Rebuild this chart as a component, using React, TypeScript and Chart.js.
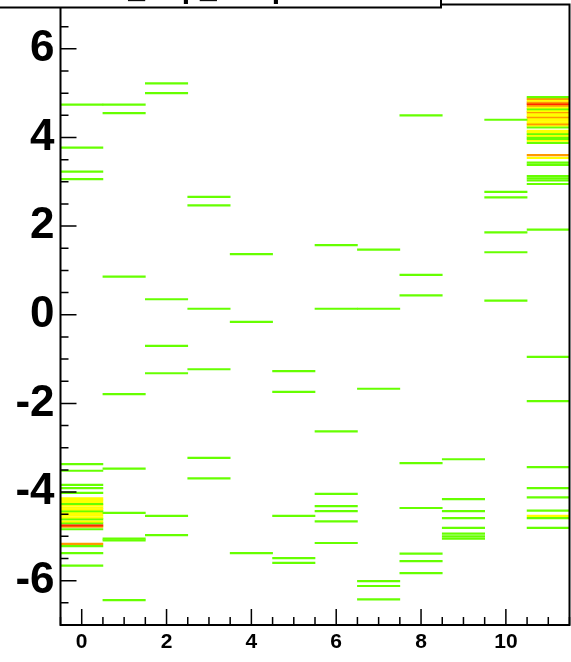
import React, { useEffect, useRef } from 'react';
import { Chart, registerables } from 'chart.js';

Chart.register(...registerables);

// ---- data ----
const xBins = [0, 1, 2, 3, 4, 5, 6, 7, 8, 9, 10, 11];
const xTickLabels = ['0', '2', '4', '6', '8', '10'];
const yTickLabels = ['-6', '-4', '-2', '0', '2', '4', '6'];
const xRange = [-0.5, 11.5];
const yRange = [-7, 7];
const yBinWidth = 14 / 400;
const minorStep = 0.5;
const titleText = 'h_tmp_rmsp';

const bin0Y = [4.74, 3.77, 3.23, 3.06, -3.37, -3.52, -3.84, -3.91, -4.02, -4.14, -4.18, -4.22, -4.27, -4.3, -4.35, -4.39, -4.43, -4.47, -4.52, -4.57, -4.61, -4.66, -4.7, -4.75, -4.78, -4.84, -5.17, -5.22, -5.38, -5.66];
const bin0N = [1, 1, 1, 1, 1, 1, 1, 1, 1, 2, 2, 2, 1, 2, 2, 2, 1, 2, 2, 2, 1, 2, 1, 4, 3, 1, 3, 1, 1, 1];
const bin1Y = [4.74, 4.55, 0.86, -1.79, -3.47, -4.47, -5.05, -5.09, -6.44];
const bin2Y = [5.22, 5.0, 0.35, -0.7, -1.32, -4.54, -4.97];
const bin3Y = [2.66, 2.47, 0.135, -1.23, -3.23, -3.69];
const bin4Y = [1.37, -0.16, -5.38];
const bin5Y = [-1.27, -1.74, -4.54, -5.49, -5.6];
const bin6Y = [1.57, 0.135, -2.63, -4.04, -4.32, -4.43, -4.66, -5.15];
const bin7Y = [1.47, 0.135, -1.67, -6.01, -6.12, -6.42];
const bin8Y = [4.5, 0.9, 0.435, -3.35, -4.36, -5.39, -5.56, -5.83];
const bin9Y = [-3.26, -4.16, -4.43, -4.59, -4.81, -4.94, -5.0, -5.05];
const bin10Y = [4.4, 2.77, 2.65, 1.86, 1.41, 0.32];
const bin11Y = [4.91, 4.87, 4.83, 4.79, 4.76, 4.72, 4.68, 4.64, 4.6, 4.57, 4.53, 4.49, 4.46, 4.42, 4.38, 4.34, 4.3, 4.27, 4.23, 4.15, 4.12, 4.08, 4.04, 4.0, 3.97, 3.93, 3.88, 3.6, 3.54, 3.43, 3.38, 3.13, 3.08, 3.03, 2.95, 1.92, -0.95, -1.95, -3.44, -3.91, -4.12, -4.42, -4.54, -4.59, -4.81];
const bin11N = [1, 3, 2, 3, 4, 3, 2, 1, 2, 3, 2, 2, 3, 2, 2, 2, 3, 2, 1, 2, 2, 1, 2, 1, 1, 2, 1, 3, 2, 1, 1, 1, 1, 1, 1, 1, 1, 1, 1, 1, 1, 1, 2, 1, 1];

const paletteColors = ['#66ff00', '#ffff00', '#ff9900', '#ff2a00'];

const columnsY = [bin0Y, bin1Y, bin2Y, bin3Y, bin4Y, bin5Y, bin6Y, bin7Y, bin8Y, bin9Y, bin10Y, bin11Y];
const columnsN: (number[] | null)[] = [bin0N, null, null, null, null, null, null, null, null, null, null, bin11N];

function buildDatasets() {
  const maxLen = Math.max(...columnsY.map((a) => a.length));
  const datasets: any[] = [];
  for (let k = 0; k < maxLen; k++) {
    const data: any[] = [];
    columnsY.forEach((ys, c) => {
      if (k < ys.length) {
        const n = columnsN[c] ? (columnsN[c] as number[])[k] : 1;
        data.push({ x: xBins[c], y: [ys[k] - yBinWidth / 2, ys[k] + yBinWidth / 2], n });
      }
    });
    datasets.push({
      data,
      backgroundColor: (ctx: any) => paletteColors[((ctx.raw && ctx.raw.n) || 1) - 1],
      borderWidth: 0,
      grouped: false,
      barPercentage: 1,
      categoryPercentage: 1,
    });
  }
  return datasets;
}

const FONT = '"Liberation Sans", Arial, Helvetica, sans-serif';

const frameTicks = {
  id: 'frameTicks',
  afterDraw(chart: any) {
    const { ctx, chartArea: a } = chart;
    const xs = chart.scales.x;
    const ys = chart.scales.y;
    ctx.save();
    ctx.strokeStyle = '#000';
    ctx.lineWidth = 1.5;
    ctx.beginPath();
    for (let v = xs.min; v <= xs.max + 1e-9; v += minorStep) {
      const px = xs.getPixelForValue(v);
      const len = xTickLabels.includes(String(v)) ? 16 : 8;
      ctx.moveTo(px, a.bottom);
      ctx.lineTo(px, a.bottom - len);
    }
    for (let v = ys.min; v <= ys.max + 1e-9; v += minorStep) {
      const py = ys.getPixelForValue(v);
      const len = yTickLabels.includes(String(v)) ? 16 : 8;
      ctx.moveTo(a.left, py);
      ctx.lineTo(a.left + len, py);
    }
    ctx.stroke();
    ctx.lineWidth = 2;
    ctx.strokeRect(a.left, a.top, a.right - a.left, a.bottom - a.top);
    // title box (mostly above the visible area)
    ctx.fillStyle = '#fff';
    ctx.fillRect(-2, -40, 443, 47.5);
    ctx.lineWidth = 2;
    ctx.strokeRect(-2, -40, 443, 47.5);
    ctx.fillStyle = '#000';
    ctx.font = `bold 30px ${FONT}`;
    ctx.textBaseline = 'alphabetic';
    ctx.textAlign = 'left';
    ctx.fillText(titleText, 110, -2.5);
    ctx.restore();
  },
};

export default function App() {
  const ref = useRef<HTMLCanvasElement | null>(null);
  useEffect(() => {
    document.body.style.margin = '0';
    const canvas = ref.current;
    if (!canvas) return;
    const chart = new Chart(canvas, {
      type: 'bar',
      data: { datasets: buildDatasets() },
      options: {
        responsive: false,
        animation: false,
        devicePixelRatio: 1,
        layout: { padding: { top: 4.5, right: 1.5, left: 0, bottom: 0 } },
        plugins: { legend: { display: false }, tooltip: { enabled: false }, title: { display: false } },
        scales: {
          x: {
            type: 'linear',
            min: xRange[0],
            max: xRange[1],
            offset: false,
            grid: { display: false, drawTicks: false, offset: false },
            border: { display: false },
            afterBuildTicks: (s: any) => {
              s.ticks = xTickLabels.map((t) => ({ value: Number(t) }));
            },
            afterFit: (s: any) => {
              s.height = 37;
              s.paddingLeft = 0;
              s.paddingRight = 0;
            },
            ticks: {
              autoSkip: false,
              maxRotation: 0,
              minRotation: 0,
              padding: 5,
              color: '#000',
              font: { family: FONT, size: 21, weight: 'bold' },
              callback: (v: any) => String(v),
            },
          },
          y: {
            type: 'linear',
            min: yRange[0],
            max: yRange[1],
            grid: { display: false, drawTicks: false },
            border: { display: false },
            afterBuildTicks: (s: any) => {
              s.ticks = yTickLabels.map((t) => ({ value: Number(t) }));
            },
            afterFit: (s: any) => {
              s.width = 60.5;
              s.paddingTop = 0;
              s.paddingBottom = 0;
            },
            ticks: {
              autoSkip: false,
              padding: 6,
              color: '#000',
              font: { family: FONT, size: 44, weight: 'bold' },
              callback: (v: any) => String(v),
            },
          },
        },
      } as any,
      plugins: [frameTicks],
    });
    return () => chart.destroy();
  }, []);
  return (
    <div style={{ width: 571, height: 662, background: '#fff' }}>
      <canvas ref={ref} width={571} height={662} style={{ display: 'block' }} />
    </div>
  );
}
